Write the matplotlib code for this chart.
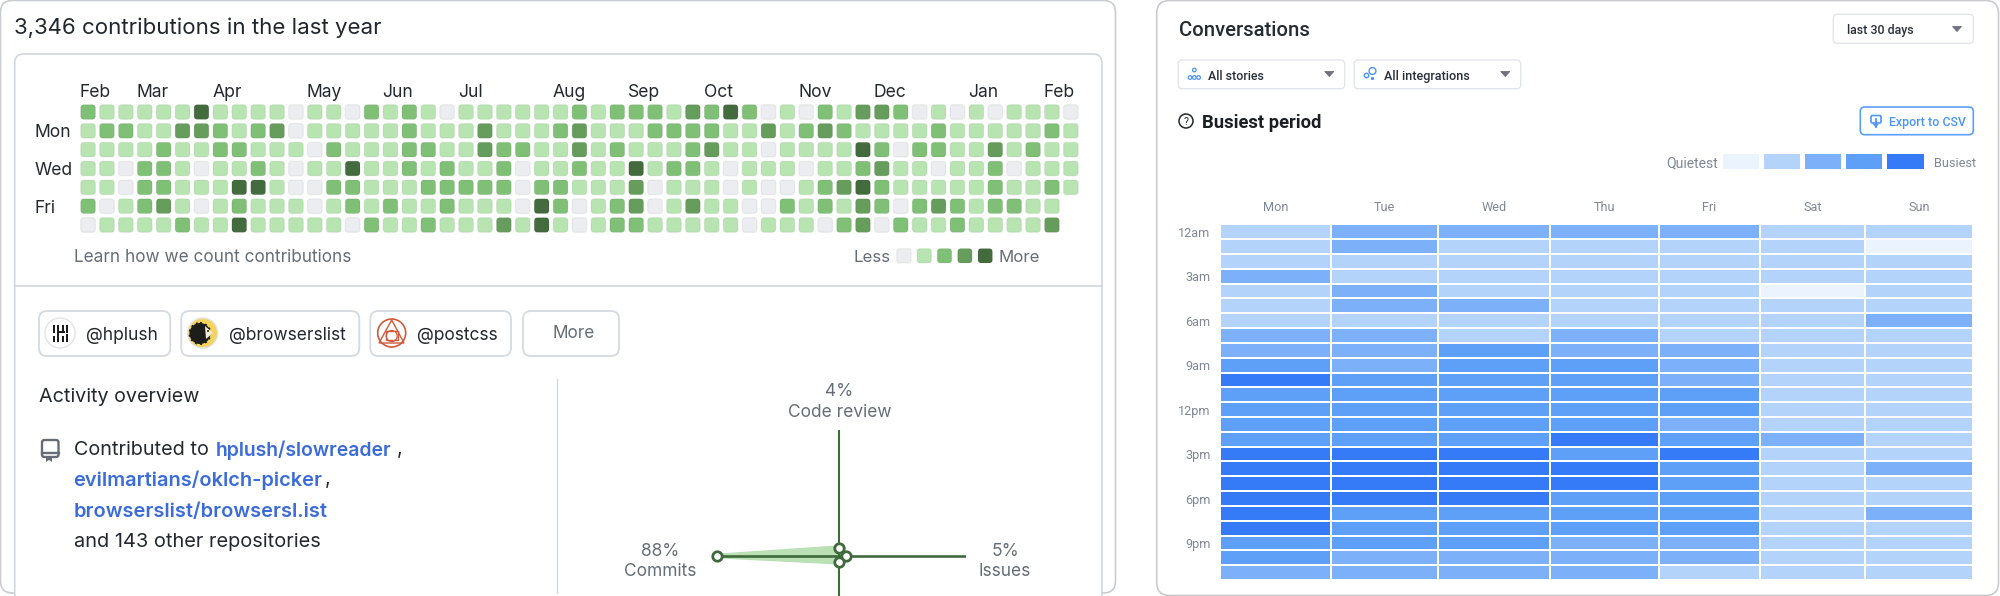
import matplotlib
matplotlib.use("Agg")
import matplotlib.pyplot as plt
from matplotlib.colors import ListedColormap
from matplotlib.patches import Circle, FancyBboxPatch, Polygon, Rectangle

# ---- contribution calendar: one list per weekday row, one entry per week ----
month_names = ["Feb", "Mar", "Apr", "May", "Jun", "Jul", "Aug", "Sep", "Oct", "Nov", "Dec", "Jan", "Feb"]
month_weeks = [0, 3, 7, 12, 16, 20, 25, 29, 33, 38, 42, 47, 51]
weekday_names = ["Mon", "Wed", "Fri"]
weekday_rows = [1, 3, 5]
sun_levels = [2,1,1,1,1,1,4,1,1,1,1,0,1,1,0,2,1,2,1,0,1,1,1,1,1,1,
              2,1,2,2,2,1,3,2,4,2,0,1,0,2,1,3,3,2,0,1,0,1,0,1,1,1,0]
mon_levels = [1,2,2,1,1,3,3,2,1,2,3,0,1,1,1,1,1,2,1,1,1,3,1,1,1,2,
              3,1,1,1,2,2,2,2,1,1,3,1,2,3,2,1,1,1,1,2,1,1,1,1,1,2,1]
tue_levels = [1,1,1,1,2,1,1,2,2,1,1,1,0,2,1,1,1,2,2,1,1,3,2,2,1,1,
              3,1,2,1,1,1,2,3,1,1,0,1,1,1,1,4,2,0,2,2,1,1,3,1,2,1,1]
wed_levels = [1,1,0,2,2,1,0,1,1,2,1,0,1,1,4,1,1,2,1,2,1,1,2,0,1,1,
              2,1,1,4,1,2,2,1,0,1,1,1,0,1,1,2,3,1,1,0,1,1,2,0,1,1,1]
thu_levels = [1,1,0,2,2,1,1,1,4,4,1,0,0,2,2,1,1,1,2,2,2,2,2,0,2,2,
              1,1,1,3,0,1,1,1,0,1,0,0,1,2,3,4,2,1,1,1,1,1,2,1,1,2,1]
fri_levels = [2,0,1,2,3,1,0,1,2,1,1,1,0,1,2,1,2,1,1,2,1,1,1,0,4,2,
              0,1,2,3,0,1,3,1,1,0,0,2,1,2,1,3,2,0,2,3,2,1,2,2,1,1]
sat_levels = [0,1,1,1,1,2,1,1,4,1,1,1,1,1,0,2,1,1,2,1,1,1,3,1,4,1,
              0,1,2,2,1,1,1,1,1,0,1,1,1,0,2,3,0,2,1,1,2,1,1,1,1,3]
calendar_levels = [sun_levels, mon_levels, tue_levels, wed_levels, thu_levels, fri_levels, sat_levels]
green_scale = ["#ebedf0", "#b8e4b2", "#7fbf76", "#669c5c", "#436b3e"]

# ---- activity overview ----
activity_names = ["Commits", "Issues", "Code review", "Pull requests"]
activity_share = [88, 5, 4, 3]

# ---- busiest period heat map: one list per weekday, one entry per hour ----
heat_days = ["Mon", "Tue", "Wed", "Thu", "Fri", "Sat", "Sun"]
hour_labels = ["12am", "3am", "6am", "9am", "12pm", "3pm", "6pm", "9pm"]
mon_hours = [1,1,1,2,1,1,1,2,2,3,4,3,3,3,3,4,4,4,4,4,4,3,3,2]
tue_hours = [2,2,1,1,2,2,1,2,2,2,3,3,3,3,3,4,4,4,4,3,3,3,2,2]
wed_hours = [2,1,1,1,1,2,1,1,3,3,3,3,3,3,3,4,4,4,4,3,3,3,2,2]
thu_hours = [2,1,1,1,1,1,1,2,2,3,3,3,3,3,4,3,4,4,3,3,3,2,2,2]
fri_hours = [2,1,1,1,1,1,1,1,2,2,2,3,3,2,3,4,3,3,3,3,3,2,2,1]
sat_hours = [1,1,1,1,0,1,1,1,1,1,1,1,1,1,2,1,1,1,1,1,1,1,1,1]
sun_hours = [1,0,1,1,1,1,2,1,1,1,1,1,1,1,1,1,2,1,1,2,1,1,1,1]
heat_values = [list(row) for row in zip(mon_hours, tue_hours, wed_hours, thu_hours,
                                        fri_hours, sat_hours, sun_hours)]
blue_scale = ["#ebf3fe", "#b4d3fb", "#7cb1f9", "#5e9ff8", "#357bf7"]

W, H = 2000, 596
SANS = ["Inter", "DejaVu Sans"]
PLEX = ["Roboto", "DejaVu Sans"]
INK = "#1f2328"
MUTED = "#656d76"
RULE = "#d0d7de"
LINK = "#3b6cd9"
SLATE = "#7f8797"
ACCENT = "#4b94f8"
ARROW = "#6b7280"
FOREST = "#3f6b3c"

fig = plt.figure(figsize=(W / 100, H / 100), dpi=100, facecolor="white")


def axes_at(left, top, right, bottom, **kw):
    """Axes placed by its pixel box, measured from the top-left of the figure."""
    return fig.add_axes([left / W, 1 - bottom / H, (right - left) / W, (bottom - top) / H], **kw)


page = axes_at(0, 0, W, H)
page.set_xlim(0, W)
page.set_ylim(H, 0)
page.axis("off")


def write(x, y, s, px, color=INK, ha="left", family=SANS, weight="normal", ax=page):
    return ax.text(x, y, s, fontsize=px * 0.72, color=color, ha=ha, va="center_baseline",
                   family=family, fontweight=weight)


def box(x0, y0, x1, y1, radius, edge=RULE, face="white", lw=1.0, ax=page, z=1):
    patch = FancyBboxPatch((x0, y0), x1 - x0, y1 - y0, boxstyle=f"round,pad=0,rounding_size={radius}",
                           facecolor=face, edgecolor=edge, linewidth=lw, zorder=z)
    ax.add_patch(patch)
    return patch


def caret(x, y):
    page.add_patch(Polygon([(x - 4.5, y - 2.5), (x + 4.5, y - 2.5), (x, y + 2.5)], closed=True,
                           facecolor=ARROW, edgecolor=ARROW, linewidth=0.6, joinstyle="round"))


# ---- left card ----
box(0.5, 0.5, 1115.5, 593, 12, edge="#c9cdd2", lw=1.2)
write(14, 26, "3,346 contributions in the last year", 22.3, color="#22272d")
box(14.7, 54, 1102, 640, 9, edge=RULE, lw=1.2)
page.plot([14.7, 1102], [286, 286], color=RULE, lw=1.2)
page.plot([557.3, 557.3], [379, 593], color=RULE, lw=1.0)

# contribution grid
cal = axes_at(78.6, 102.6, 1080.3, 234.4)
cal.set_xlim(0, 53)
cal.set_ylim(7, 0)
cal.patch.set_alpha(0)
for spine in cal.spines.values():
    spine.set_visible(False)
CELL = 0.778
for row, levels in enumerate(calendar_levels):
    for week, level in enumerate(levels):
        pad = (1 - CELL) / 2
        cal.add_patch(FancyBboxPatch((week + pad, row + pad), CELL, CELL,
                                     boxstyle="round,pad=0,rounding_size=0.17",
                                     facecolor=green_scale[level],
                                     edgecolor=(0.1, 0.15, 0.1, 0.06), linewidth=0.9))
cal.set_xticks([w + 0.07 for w in month_weeks], month_names, ha="left", family=SANS, fontsize=12.6, color="#24292f")
cal.xaxis.tick_top()
cal.set_yticks([r + 0.5 for r in weekday_rows], weekday_names, ha="left", family=SANS, fontsize=12.6, color="#24292f")
cal.tick_params(axis="x", length=0, pad=0.8)
cal.tick_params(axis="y", length=0, pad=32)

write(74, 256, "Learn how we count contributions", 17.2, color=MUTED)
write(853.7, 256, "Less", 16.8, color=MUTED)
write(998.7, 256, "More", 16.8, color=MUTED)
for left, shade in zip([896.7, 917, 937.3, 957.7, 978], green_scale):
    box(left, 248.6, left + 14.4, 263, 3.2, edge=(0.1, 0.15, 0.1, 0.06), face=shade, lw=0.9)

# organisation chips
for x0, x1 in [(39, 170.3), (181.3, 359.3), (370.3, 511), (523, 619)]:
    box(x0, 311, x1, 356, 8, edge="#d4dae1", lw=1.3)
write(86, 333, "@hplush", 17.4, color="#24292f")
write(228.7, 333, "@browserslist", 17.4, color="#24292f")
write(417, 333, "@postcss", 17.4, color="#24292f")
write(553, 331.5, "More", 17.2, color=MUTED)

# hplush avatar
page.add_patch(Circle((60, 333), 15, facecolor="white", edgecolor="#e1e4e8", lw=1))
for bx, by, bw, bh in [(52.5, 325, 2.2, 8), (56.5, 325, 2.2, 17), (61.5, 325, 2.2, 6), (65.5, 325, 2.2, 8),
                       (52.5, 336, 2.2, 6), (61.5, 336, 2.2, 6), (65.5, 334, 2.2, 8), (58, 331, 7, 1.8)]:
    page.add_patch(Rectangle((bx, by), bw, bh, facecolor="#1b1b1b", edgecolor="none"))
# browserslist avatar
page.add_patch(Circle((202.7, 333), 15, facecolor="#f4d35e", edgecolor="#e1e4e8", lw=1))
page.add_patch(Circle((200, 333.5), 10.5, facecolor="#1d1d1b", edgecolor="#1d1d1b", lw=1.4, linestyle=":"))
page.add_patch(Polygon([(205, 326), (213, 333), (206, 339)], closed=True, facecolor="#f6efd8", edgecolor="none"))
page.add_patch(Circle((208, 331), 1.0, facecolor="#1d1d1b", edgecolor="none"))
# postcss avatar
page.add_patch(Circle((391.7, 333), 14, facecolor="white", edgecolor="#cf5a3c", lw=1.2))
page.add_patch(Polygon([(391.7, 320), (404, 343), (379, 343)], closed=True, facecolor="none", edgecolor="#cf5a3c", lw=1))
page.add_patch(Rectangle((386, 331), 11.5, 9, facecolor="none", edgecolor="#cf5a3c", lw=1))
page.add_patch(Circle((391.7, 336), 5.5, facecolor="none", edgecolor="#cf5a3c", lw=0.9))

# activity overview text
write(39, 395, "Activity overview", 19.7, color="#24292f")
write(73.7, 448, "Contributed to", 19.8, color="#24292f")
write(215.7, 448, "hplush/slowreader", 19.4, color=LINK, weight="semibold")
write(396.7, 448, ",", 19.8, color="#24292f")
write(73, 478.5, "evilmartians/oklch-picker", 20, color=LINK, weight="semibold")
write(324.5, 478.5, ",", 19.8, color="#24292f")
write(73.7, 510, "browserslist/browsersl.ist", 20, color=LINK, weight="semibold")
write(73.7, 540, "and 143 other repositories", 20, color="#24292f")
# repository glyph
box(42, 440, 58.5, 457, 2.4, edge=MUTED, face="none", lw=1.7)
page.plot([42, 58.5], [453, 453], color=MUTED, lw=1.7)
page.add_patch(Polygon([(46, 457), (52, 457), (52, 462), (49, 460), (46, 462)], closed=True, facecolor=MUTED, edgecolor="none"))

# activity cross chart: percentage scales with separate pixel densities per direction
ORIGIN_X, ORIGIN_Y = 839.3, 556.0
X_DENSITY, Y_DENSITY = 1.393, 2.08
radar = axes_at(716.7, 430, 966, 596)
radar.set_xlim(-(ORIGIN_X - 716.7) / X_DENSITY, (966 - ORIGIN_X) / X_DENSITY)
radar.set_ylim(-(596 - ORIGIN_Y) / Y_DENSITY, (ORIGIN_Y - 430) / Y_DENSITY)
radar.axis("off")
directions = [(-1, 0), (0, 1), (1, 0), (0, -1)]
ordered = [activity_share[0], activity_share[2], activity_share[1], activity_share[3]]
px_pts = [dx * v for (dx, _), v in zip(directions, ordered)]
py_pts = [dy * v for (_, dy), v in zip(directions, ordered)]
radar.fill(px_pts, py_pts, facecolor="#bbe0b6", edgecolor="#bbe0b6", lw=3.4, joinstyle="round", zorder=1)
radar.axhline(0, color=FOREST, lw=1.9, zorder=2)
radar.axvline(0, color=FOREST, lw=1.5, zorder=2)
radar.plot(px_pts, py_pts, ls="none", marker="o", ms=6.8, mfc="white", mec=FOREST, mew=2.0, zorder=3, clip_on=False)
write(839.3, 390, f"{activity_share[2]}%", 17.3, color=MUTED, ha="center")
write(839.3, 410.7, activity_names[2], 17.3, color=MUTED, ha="center")
write(660, 549, f"{activity_share[0]}%", 17.3, color=MUTED, ha="center")
write(660, 569.3, activity_names[0], 17.3, color=MUTED, ha="center")
write(1005, 549, f"{activity_share[1]}%", 17.3, color=MUTED, ha="center")
write(1005, 569.3, activity_names[1], 17.3, color=MUTED, ha="center")

# ---- right card ----
box(1156.7, 0.5, 1998.5, 595.5, 13, edge="#c9cbcf", lw=1.2)
write(1178.7, 28, "Conversations", 20.3, color="#252b33", family=PLEX, weight="medium")
box(1833.3, 14.3, 1973.3, 43.3, 4, edge="#e2e5e9", lw=1)
write(1847.3, 29, "last 30 days", 12.4, color="#2a3038", family=PLEX, weight="medium")
caret(1957, 29)
box(1178.3, 60, 1344.7, 88.7, 4, edge="#e2e5e9", lw=1)
write(1208, 75.3, "All stories", 12.4, color="#2a3038", family=PLEX, weight="medium")
caret(1329.3, 74)
box(1354.3, 60, 1520.7, 88.7, 4, edge="#e2e5e9", lw=1)
write(1383.7, 75.3, "All integrations", 12.6, color="#2a3038", family=PLEX, weight="medium")
caret(1505.3, 74)

# story tree glyph
for cx, cy in [(1194.3, 70), (1190, 77.5), (1194.3, 77.5), (1198.6, 77.5)]:
    page.add_patch(Circle((cx, cy), 1.8, facecolor="none", edgecolor=ACCENT, lw=0.9))
# integrations glyph
page.add_patch(Circle((1372.5, 71), 3.4, facecolor="none", edgecolor=ACCENT, lw=1))
page.add_patch(Circle((1366.5, 75.5), 2.2, facecolor="none", edgecolor=ACCENT, lw=1))
page.add_patch(Circle((1372.5, 78.5), 1.6, facecolor=ACCENT, edgecolor="none"))

page.add_patch(Circle((1186, 121), 7, facecolor="none", edgecolor="#22272d", lw=1.1))
write(1186, 121, "?", 10.5, color="#22272d", ha="center", family=PLEX)
write(1201.7, 121.5, "Busiest period", 18.4, color="#1b1f24", family=PLEX, weight="bold")

box(1860.3, 107, 1973.3, 134.7, 4.5, edge="#5a9ff9", lw=1.2)
write(1888.7, 121, "Export to CSV", 12.4, color=ACCENT, family=PLEX, weight="medium")
box(1871, 115.5, 1881, 123, 1.6, edge=ACCENT, face="none", lw=1.2)
page.plot([1875.8, 1875.8], [119, 127], color=ACCENT, lw=1.3)
page.add_patch(Polygon([(1872.8, 124), (1878.8, 124), (1875.8, 127.5)], closed=True, facecolor=ACCENT, edgecolor="none"))

# heat map legend and grid share one colour scale
blues = ListedColormap(blue_scale)
write(1666, 162, "Quietest", 14, color=SLATE, family=PLEX)
write(1934.3, 162, "Busiest", 12.8, color=SLATE, family=PLEX)
key = axes_at(1720, 151, 1925.5, 171)
key.pcolormesh([[i for i in range(len(blue_scale))]], cmap=blues, vmin=-0.5, vmax=4.5,
               edgecolors="white", linewidth=2.4)
key.axis("off")

COLUMN_EDGES = [1220.2, 1330.9, 1438.2, 1549.9, 1659.1, 1760.1, 1864.8, 1973.4]
ROW_TOP, ROW_PITCH = 224.2, 14.83
rows = len(heat_values)
heat = axes_at(COLUMN_EDGES[0], ROW_TOP, COLUMN_EDGES[-1], ROW_TOP + rows * ROW_PITCH)
heat.pcolormesh(COLUMN_EDGES, [i for i in range(rows + 1)], heat_values, cmap=blues, vmin=-0.5, vmax=4.5,
                edgecolors="white", linewidth=1.15)
heat.set_xlim(COLUMN_EDGES[0], COLUMN_EDGES[-1])
heat.set_ylim(rows, 0)
for spine in heat.spines.values():
    spine.set_visible(False)
centres = [(a + b) / 2 for a, b in zip(COLUMN_EDGES[:-1], COLUMN_EDGES[1:])]
heat.set_xticks(centres, heat_days, family=PLEX, fontsize=9.1, color=SLATE)
heat.xaxis.tick_top()
heat.set_yticks([i * 3 + 0.5 for i in range(len(hour_labels))], hour_labels, family=PLEX, fontsize=9.1, color=SLATE)
heat.tick_params(axis="x", length=0, pad=7.5)
heat.tick_params(axis="y", length=0, pad=7)

fig.savefig("out.png", dpi=100, facecolor="white")
